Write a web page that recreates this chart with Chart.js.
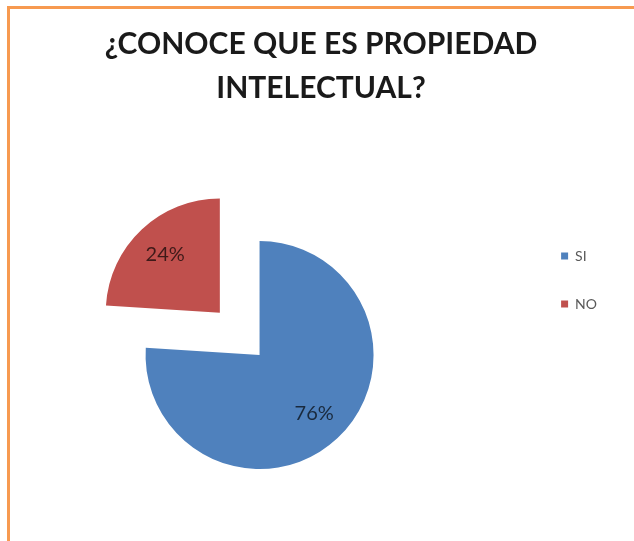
<!DOCTYPE html>
<html lang="es">
<head>
<meta charset="utf-8">
<title>Propiedad intelectual</title>
<script src="https://cdn.jsdelivr.net/npm/chart.js@4.4.1/dist/chart.umd.min.js"></script>
<style>
    html, body {
        margin: 0;
        padding: 0;
        width: 634px;
        height: 541px;
        overflow: hidden;
        background: #ffffff;
    }
    #frame {
        position: absolute;
        left: 7px;
        top: 6px;
        width: 650px;
        height: 560px;
        border: 3px solid #f79a50;
        box-sizing: border-box;
    }
    #surveyChart {
        position: absolute;
        left: -8px;
        top: 0;
    }
</style>
</head>
<body>
<div id="frame"></div>
<canvas id="surveyChart" width="658" height="541"></canvas>

<script>
const answers = ["SI", "NO"];
const percents = [76, 24];
const sliceColors = ["#4f81bd", "#c0504d"];
const titleLines = ["¿CONOCE QUE ES PROPIEDAD", "INTELECTUAL?"];

// percentage text inside each slice, follows the slice offset
// (ArcElement moves an exploded slice by offset / 4)
const sliceLabels = {
    id: "sliceLabels",
    afterDatasetsDraw(chart) {
        const ctx = chart.ctx;
        const meta = chart.getDatasetMeta(0);
        ctx.save();
        ctx.font = "20px Lato";
        ctx.fillStyle = "rgba(0, 0, 0, 0.68)";
        ctx.textAlign = "center";
        ctx.textBaseline = "middle";
        meta.data.forEach((arc, i) => {
            const p = arc.getProps(["x", "y", "startAngle", "endAngle", "outerRadius"], true);
            const mid = (p.startAngle + p.endAngle) / 2;
            const d = p.outerRadius * 0.7 + (arc.options.offset || 0) / 4;
            ctx.fillText(percents[i] + "%", p.x + Math.cos(mid) * d, p.y + Math.sin(mid) * d);
        });
        ctx.restore();
    }
};

new Chart(document.getElementById("surveyChart"), {
    type: "pie",
    data: {
        labels: answers,
        datasets: [{
            data: percents,
            backgroundColor: sliceColors,
            borderWidth: 0,
            offset: [0, 232],
            clip: false
        }]
    },
    options: {
        responsive: false,
        animation: false,
        radius: 114,
        layout: {
            padding: { top: 19, left: 0, right: 0, bottom: 0 }
        },
        plugins: {
            title: {
                display: true,
                text: titleLines,
                color: "#1a1a1a",
                font: { family: "Lato", size: 30, weight: "bold", lineHeight: 44 / 30 },
                padding: { top: 3, bottom: 59 }
            },
            // empty box on the right, keeps the title centred over the whole frame
            subtitle: {
                display: true,
                position: "right",
                text: "",
                font: { size: 12, lineHeight: 1 },
                padding: { top: 0, bottom: 31 }
            },
            legend: {
                position: "right",
                labels: {
                    boxWidth: 7,
                    boxHeight: 7,
                    padding: 34,
                    color: "#595959",
                    font: { family: "Lato", size: 14 }
                }
            },
            tooltip: { enabled: false }
        }
    },
    plugins: [sliceLabels]
});
</script>
</body>
</html>
